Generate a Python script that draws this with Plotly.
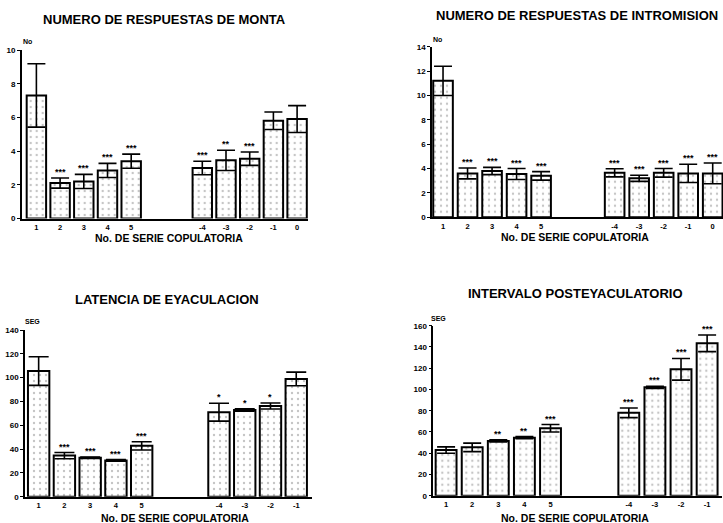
import plotly.graph_objects as go

W, H = 723, 523

# ---------------- data ----------------
cats_monta = ["1", "2", "3", "4", "5", "-4", "-3", "-2", "-1", "0"]
monta_mean = [7.3, 2.1, 2.2, 2.85, 3.4, 3.0, 3.45, 3.55, 5.8, 5.9]
monta_se = [1.88, 0.3, 0.42, 0.42, 0.42, 0.4, 0.6, 0.4, 0.52, 0.8]
monta_sig = ["", "***", "***", "***", "***", "***", "**", "***", "", ""]

cats_intro = ["1", "2", "3", "4", "5", "-4", "-3", "-2", "-1", "0"]
intro_mean = [11.2, 3.6, 3.8, 3.55, 3.4, 3.65, 3.2, 3.65, 3.6, 3.6]
intro_se = [1.2, 0.45, 0.3, 0.45, 0.35, 0.33, 0.25, 0.35, 0.75, 0.85]
intro_sig = ["", "***", "***", "***", "***", "***", "***", "***", "***", "***"]

cats_lat = ["1", "2", "3", "4", "5", "-4", "-3", "-2", "-1"]
lat_mean = [105.5, 34.5, 32.8, 30.5, 42.7, 71.0, 72.9, 76.2, 98.9]
lat_se = [12.0, 2.6, 0.6, 0.6, 3.5, 7.5, 1.0, 2.5, 5.7]
lat_sig = ["", "***", "***", "***", "***", "*", "*", "*", ""]

cats_int = ["1", "2", "3", "4", "5", "-4", "-3", "-2", "-1"]
int_mean = [43.0, 45.5, 51.5, 54.6, 63.5, 78.0, 102.0, 119.0, 143.4]
int_se = [3.0, 4.0, 1.0, 1.0, 3.5, 4.5, 1.0, 10.2, 7.8]
int_sig = ["", "", "**", "**", "***", "***", "***", "***", "***"]

titles = ["NUMERO DE RESPUESTAS DE MONTA", "NUMERO DE RESPUESTAS DE INTROMISION",
          "LATENCIA DE EYACULACION", "INTERVALO POSTEYACULATORIO"]
xlabel = "No. DE SERIE COPULATORIA"
units = ["No", "No", "SEG", "SEG"]
yticks = [list(range(0, 11, 2)), list(range(0, 15, 2)),
          list(range(0, 141, 20)), list(range(0, 161, 20))]

# ---------------- layout helpers (pixel geometry) ----------------
def px_x(p):
    return p / W


def px_y(p):
    return 1 - p / H


panels = [
    dict(cats=cats_monta, mean=monta_mean, se=monta_se, sig=monta_sig,
         xd=(21.7, 308), yd=(218.5, 50), xr=(-0.62, 11.46), yr=(0, 10),
         title_xy=(164, 20), xlab_xy=(169, 238.5), unit_xy=(27, 42), width=0.82, cap=9),
    dict(cats=cats_intro, mean=intro_mean, se=intro_se, sig=intro_sig,
         xd=(432, 723), yd=(217.3, 46.7), xr=(-0.45, 11.42), yr=(0, 14),
         title_xy=(577, 16), xlab_xy=(575, 237), unit_xy=(437, 40), width=0.8, cap=9),
    dict(cats=cats_lat, mean=lat_mean, se=lat_se, sig=lat_sig,
         xd=(25, 311.7), yd=(496.7, 330), xr=(-0.53, 10.6), yr=(0, 140),
         title_xy=(167, 299), xlab_xy=(175, 517.5), unit_xy=(32, 321), width=0.83, cap=10),
    dict(cats=cats_int, mean=int_mean, se=int_se, sig=int_sig,
         xd=(433.3, 722), yd=(495.7, 325.7), xr=(-0.49, 10.57), yr=(0, 160),
         title_xy=(575, 293), xlab_xy=(575, 517.5), unit_xy=(439, 318), width=0.8, cap=9),
]

GAP = 2  # empty slots between the two groups

fig = go.Figure()
annotations = []
FONT = "Liberation Sans, Arial, sans-serif"

for i, p in enumerate(panels):
    n = i + 1
    xa = "x" if n == 1 else f"x{n}"
    ya = "y" if n == 1 else f"y{n}"
    pos = [k if k < 5 else k + GAP for k in range(len(p["cats"]))]
    fig.add_trace(go.Bar(
        x=pos, y=p["mean"], width=p["width"], xaxis=xa, yaxis=ya,
        marker=dict(color="white", line=dict(color="black", width=2),
                    pattern=dict(shape=".", fgcolor="#8a8a8a", bgcolor="white",
                                 size=6, solidity=0.12)),
        error_y=dict(type="data", array=p["se"], color="black",
                     thickness=1.6, width=p["cap"]),
        showlegend=False, hoverinfo="skip",
    ))
    for x, m, s, sg in zip(pos, p["mean"], p["se"], p["sig"]):
        if sg:
            annotations.append(dict(x=x, y=m + s, xref=xa, yref=ya, text=f"<b>{sg}</b>",
                                    showarrow=False, yshift=6,
                                    font=dict(size=9, color="black", family=FONT)))
    axn = "" if n == 1 else str(n)
    fig.layout[f"xaxis{axn}"] = dict(
        domain=[px_x(p["xd"][0]), px_x(p["xd"][1])], range=list(p["xr"]),
        anchor=ya, tickvals=pos, ticktext=[f"<b>{c}</b>" for c in p["cats"]],
        ticks="", showline=True, linecolor="black", linewidth=1.5, ticklabelstandoff=1,
        showgrid=False, zeroline=False, tickfont=dict(size=7.5, color="black", family=FONT),
        fixedrange=True)
    fig.layout[f"yaxis{axn}"] = dict(
        domain=[px_y(p["yd"][0]), px_y(p["yd"][1])], range=list(p["yr"]),
        anchor=xa, tickvals=yticks[i], ticktext=[f"<b>{t}</b>" for t in yticks[i]],
        ticks="outside", ticklen=3, tickwidth=1.2, tickcolor="black",
        showline=True, linecolor="black", linewidth=1.5,
        showgrid=False, zeroline=False, tickfont=dict(size=8, color="black", family=FONT),
        fixedrange=True)
    annotations.append(dict(x=px_x(p["title_xy"][0]), y=px_y(p["title_xy"][1]),
                            xref="paper", yref="paper", text=f"<b>{titles[i]}</b>",
                            showarrow=False, xanchor="center", yanchor="middle",
                            font=dict(size=13, color="black", family=FONT)))
    annotations.append(dict(x=px_x(p["xlab_xy"][0]), y=px_y(p["xlab_xy"][1]),
                            xref="paper", yref="paper", text=f"<b>{xlabel}</b>",
                            showarrow=False, xanchor="center", yanchor="middle",
                            font=dict(size=10.5, color="black", family=FONT)))
    annotations.append(dict(x=px_x(p["unit_xy"][0]), y=px_y(p["unit_xy"][1]),
                            xref="paper", yref="paper", text=f"<b>{units[i]}</b>",
                            showarrow=False, xanchor="center", yanchor="middle",
                            font=dict(size=7, color="black", family=FONT)))

fig.update_layout(
    width=W, height=H, margin=dict(l=0, r=0, t=0, b=0, autoexpand=False),
    paper_bgcolor="white", plot_bgcolor="white",
    annotations=annotations, showlegend=False,
    font=dict(family=FONT, color="black"),
)

fig.write_html("out.html", config={"displayModeBar": False},
               post_script="document.body.style.margin='0px';document.body.style.overflow='hidden';")
